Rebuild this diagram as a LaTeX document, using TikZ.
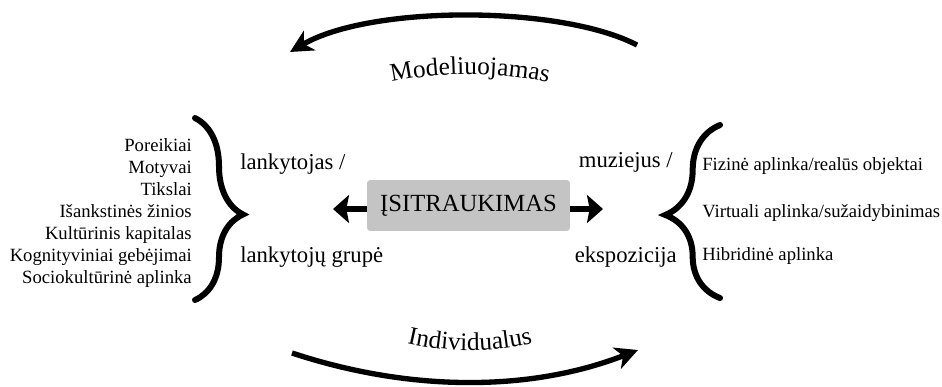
\documentclass[tikz,border=0pt]{standalone}
\usepackage{fontspec}
\setmainfont{Liberation Serif}
\usetikzlibrary{arrows.meta, positioning, decorations.pathreplacing, decorations.text}
\definecolor{boxgray}{RGB}{196,196,196}
\tikzset{
	engage/.style={
		rectangle,
		rounded corners=2pt,
		fill=boxgray,
		minimum width=152pt,
		minimum height=38pt,
		inner sep=0pt,
		font=\fontsize{18.5}{20}\selectfont
	},
	actor/.style={
		inner sep=0pt,
		font=\fontsize{17}{19}\selectfont
	},
	factor/.style={
		inner sep=0pt,
		align=right,
		font=\fontsize{14}{16.5}\selectfont
	},
	envitem/.style={
		inner sep=0pt,
		anchor=base west,
		font=\fontsize{14}{16}\selectfont
	},
	curly/.style={
		decorate,
		decoration={brace, amplitude=#1},
		line width=4.5pt,
		line cap=round
	},
	push/.style={
		-{Stealth[length=12pt, width=21pt, inset=2pt]},
		line width=4.5pt
	},
	flow/.style={
		-{Stealth[length=17pt, width=17pt, inset=5pt]},
		line width=4pt
	},
	arclabel/.style={
		decorate,
		decoration={text along path, text align=center,
			text={|\fontsize{19}{20}\selectfont|#1}}
	}
}

\begin{document}
\begin{tikzpicture}[x=0.75pt, y=-0.75pt]
	\useasboundingbox (0,0) rectangle (942,386);

	% nodes
	\node (core)  [engage] at (468.5,205.5) {ĮSITRAUKIMAS};
	\node (visA)  [actor, anchor=base west] at (240,169) {lankytojas /};
	\node (visB)  [actor, anchor=base west] at (240,262) {lankytojų grupė};
	\node (musA)  [actor, anchor=base east] at (673,167) {muziejus /};
	\node (musB)  [actor, anchor=base east] at (677,262) {ekspozicija};

	% visitor side
	\node (needs) [factor, anchor=east] at (192,213)
		{Poreikiai\\Motyvai\\Tikslai\\Išankstinės žinios\\Kultūrinis kapitalas\\Kognityviniai gebėjimai\\Sociokultūrinė aplinka};

	% museum side
	\node (env1)  [envitem] at (702,170) {Fizinė aplinka/realūs objektai};
	\node (env2)  [envitem] at (702,217) {Virtuali aplinka/sužaidybinimas};
	\node (env3)  [envitem] at (702,260) {Hibridinė aplinka};

	% braces
	\coordinate (lbTop) at (195,118);
	\coordinate (lbBot) at (195,300);
	\coordinate (rbTop) at (720,125);
	\coordinate (rbBot) at (720,298);
	\draw [curly=36pt, decoration={aspect=0.53}] (lbTop) -- (lbBot);
	\draw [curly=41pt, decoration={aspect=0.48}] (rbBot) -- (rbTop);

	% arrows out of the box
	\coordinate (leftEnd)  at (333,209);
	\coordinate (rightEnd) at (603,209);
	\draw [push] (core.west |- leftEnd) -- (leftEnd);
	\draw [push] (core.east |- rightEnd) -- (rightEnd);

	% arcs
	\coordinate (topStart) at (637,45);
	\coordinate (topEnd)   at (290,52);
	\coordinate (botStart) at (292,353);
	\coordinate (botEnd)   at (638,350);
	\draw [flow] (topStart) .. controls (560,5) and (370,5) .. (topEnd);
	\draw [flow] (botStart) .. controls (410,392) and (530,392) .. (botEnd);

	% arc labels
	\path [arclabel=Modeliuojamas] (370,88) .. controls (425,70) and (515,70) .. (570,88);
	\path [arclabel=Individualus] (385,337) .. controls (440,355) and (500,355) .. (555,337);

\end{tikzpicture}
\end{document}
